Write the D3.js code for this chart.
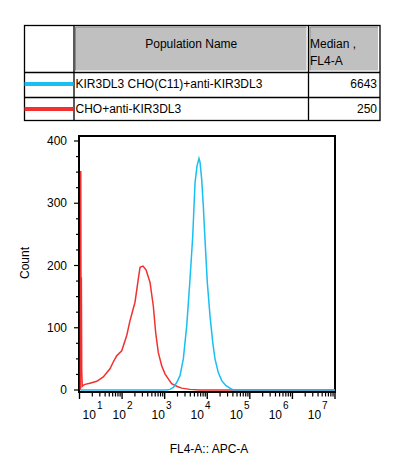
<!DOCTYPE html>
<html>
<head>
<meta charset="utf-8">
<script src="https://cdn.jsdelivr.net/npm/d3@7/dist/d3.min.js"></script>
<style>
	body { margin: 0; background: #fff; }
	svg { display: block; font-family: "Liberation Sans", Arial, sans-serif; }
</style>
</head>
<body>
<script>
'use strict';

// table rows
const populations = ['KIR3DL3 CHO(C11)+anti-KIR3DL3', 'CHO+anti-KIR3DL3'];
const medians = [6643, 250];
const popColors = ['#18bff0', '#f2302f'];

// histogram of KIR3DL3 CHO(C11)+anti-KIR3DL3 (FL4-A value, count)
const blueFL4 = [10.5, 1100, 1333, 1597, 1918, 2293, 2742, 3296, 3937, 4560, 5166, 5755, 6401, 6761, 7413, 8078, 8855, 10026, 11605, 13430, 15201, 18190, 21870, 27600, 34270, 40950, 1e7];
const blueCount = [0, 0, 1, 4, 12, 23, 50, 103, 178, 247, 333, 360, 372, 366, 338, 296, 242, 173, 119, 77, 50, 28, 15, 7, 3, 0, 0];

// histogram of CHO+anti-KIR3DL3
const redFL4 = [10.5, 10.7, 10.9, 11.05, 11.3, 11.6, 12.5, 13.5, 17.6, 25.4, 36.2, 52, 62, 74.8, 98, 128, 153, 201, 240, 264, 310, 365, 406, 453, 541, 616, 709, 852, 1018, 1217, 1462, 1918, 2512, 3936, 6761, 1e7];
const redCount = [0, 352, 55, 181, 30, 6, 8, 9, 11, 14, 21, 34, 45, 55, 63, 87, 111, 141, 178, 197, 199, 193, 183, 173, 135, 92, 60, 39, 26, 18, 10, 6, 3, 1, 0, 0];

const yTicks = [0, 100, 200, 300, 400];
const xDecades = [1, 2, 3, 4, 5, 6, 7];

const W = 394, H = 466;
const plot = { left: 79, right: 335, top: 136, bottom: 392 };

let svg = d3.select('body').append('svg').attr('width', W).attr('height', H);
svg.append('rect').attr('width', W).attr('height', H).attr('fill', '#fff');

/* ---------- table ---------- */
const tb = { left: 24.5, right: 380, top: 25.5, bottom: 120.5, col1: 74, col2: 308.5, row1: 72.5, row2: 97.5 };
let table = svg.append('g').attr('class', 'table');

// grey header cells with a small bevel
[[tb.col1, tb.col2], [tb.col2, tb.right]].forEach(([a, b]) => {
	table.append('rect').attr('x', a + 1.5).attr('y', tb.top + 1.5)
		.attr('width', b - a - 3.5).attr('height', tb.row1 - tb.top - 3.5).attr('fill', '#c0c0c0');
	table.append('path').attr('d', `M${a + 1.5},${tb.row1 - 2} V${tb.top + 1.5} H${b - 2}`)
		.attr('fill', 'none').attr('stroke', '#8a8a8a').attr('stroke-width', 1);
});

table.append('rect').attr('x', tb.left).attr('y', tb.top).attr('width', tb.right - tb.left).attr('height', tb.bottom - tb.top)
	.attr('fill', 'none').attr('stroke', '#000').attr('stroke-width', 1.3);
[tb.col1, tb.col2].forEach(cx => table.append('line').attr('x1', cx).attr('x2', cx).attr('y1', tb.top).attr('y2', tb.bottom)
	.attr('stroke', '#000').attr('stroke-width', 1.3));
[tb.row1, tb.row2].forEach(cy => table.append('line').attr('x1', tb.left).attr('x2', tb.right).attr('y1', cy).attr('y2', cy)
	.attr('stroke', '#000').attr('stroke-width', 1.3));

table.append('text').attr('x', (tb.col1 + tb.col2) / 2).attr('y', 47.5).attr('text-anchor', 'middle')
	.attr('font-size', 12).attr('fill', '#000').text('Population Name');
table.append('text').attr('x', 310).attr('y', 47.5).attr('font-size', 12).attr('fill', '#000').text('Median ,');
table.append('text').attr('x', 310).attr('y', 64.5).attr('font-size', 12).attr('fill', '#000').text('FL4-A');

const rowY = [84, 109];
populations.forEach((name, i) => {
	table.append('line').attr('x1', tb.left).attr('x2', tb.col1 - 0.5).attr('y1', rowY[i]).attr('y2', rowY[i])
		.attr('stroke', popColors[i]).attr('stroke-width', 3.8);
	table.append('text').attr('x', tb.col1 + 1.5).attr('y', rowY[i] + 4).attr('font-size', 12).attr('fill', '#000').text(name);
	table.append('text').attr('x', 377).attr('y', rowY[i] + 4).attr('text-anchor', 'end')
		.attr('font-size', 12).attr('fill', '#000').text(medians[i]);
});

/* ---------- histogram ---------- */
let xScale = d3.scaleLog().domain([10, 1e7]).range([plot.left + 0.5, plot.right]);
let yScale = d3.scaleLinear().domain([0, 400]).range([390, 141]);
// label positions of the decade labels (FlowJo draws them slightly compressed)
let xLabelScale = d3.scaleLog().domain([100, 1e7]).range([122.5, 317.7]);

let chart = svg.append('g').attr('class', 'chart');

// frame
chart.append('rect').attr('x', plot.left).attr('y', plot.top)
	.attr('width', plot.right - plot.left).attr('height', plot.bottom - plot.top)
	.attr('fill', 'none').attr('stroke', '#000').attr('stroke-width', 2);

// y axis ticks
let yMinor = d3.range(0, 401, 25);
chart.selectAll('.ytick').data(yMinor).enter().append('line')
	.attr('class', 'ytick')
	.attr('x1', d => d % 100 === 0 ? plot.left - 5 : plot.left - 3)
	.attr('x2', plot.left)
	.attr('y1', d => yScale(d)).attr('y2', d => yScale(d))
	.attr('stroke', '#000').attr('stroke-width', 1.2);
chart.selectAll('.ylabel').data(yTicks).enter().append('text')
	.attr('class', 'ylabel')
	.attr('x', 67).attr('y', d => yScale(d)).attr('dy', '0.35em')
	.attr('text-anchor', 'end').attr('font-size', 12).attr('fill', '#000')
	.text(d => d);

// x axis ticks (log major + minor)
let xMinor = [];
xDecades.forEach(d => {
	if (d < 7) for (let k = 2; k <= 9; k++) xMinor.push(k * Math.pow(10, d));
});
chart.selectAll('.xminor').data(xMinor).enter().append('line')
	.attr('x1', d => xScale(d)).attr('x2', d => xScale(d))
	.attr('y1', plot.bottom).attr('y2', plot.bottom + 4.5)
	.attr('stroke', '#000').attr('stroke-width', 1.2);
chart.selectAll('.xmajor').data(xDecades).enter().append('line')
	.attr('x1', d => xScale(Math.pow(10, d))).attr('x2', d => xScale(Math.pow(10, d)))
	.attr('y1', plot.bottom).attr('y2', plot.bottom + 7)
	.attr('stroke', '#000').attr('stroke-width', 1.4);

let xLabels = chart.selectAll('.xlabel').data(xDecades).enter().append('text')
	.attr('class', 'xlabel')
	.attr('x', d => Math.max(xLabelScale(Math.pow(10, d)), 92.5))
	.attr('y', 418.5)
	.attr('text-anchor', 'middle').attr('font-size', 12).attr('fill', '#000');
xLabels.append('tspan').text('10');
xLabels.append('tspan').attr('dx', 1).attr('dy', -9.5).attr('font-size', 10).text(d => d);

// axis titles
svg.append('text').attr('x', (plot.left + plot.right) / 2 + 2).attr('y', 453)
	.attr('text-anchor', 'middle').attr('font-size', 12).attr('fill', '#000').text('FL4-A:: APC-A');
svg.append('text').attr('transform', 'translate(29, 263) rotate(-90)')
	.attr('text-anchor', 'middle').attr('font-size', 12).attr('fill', '#000').text('Count');

// curves: red first, blue on top
let line = d3.line().x(d => xScale(d[0])).y(d => yScale(d[1]));
chart.append('path').datum(d3.zip(redFL4, redCount))
	.attr('d', line).attr('fill', 'none').attr('stroke', popColors[1]).attr('stroke-width', 1.5);
chart.append('path').datum(d3.zip(blueFL4, blueCount))
	.attr('d', line).attr('fill', 'none').attr('stroke', popColors[0]).attr('stroke-width', 1.5);
</script>
</body>
</html>
